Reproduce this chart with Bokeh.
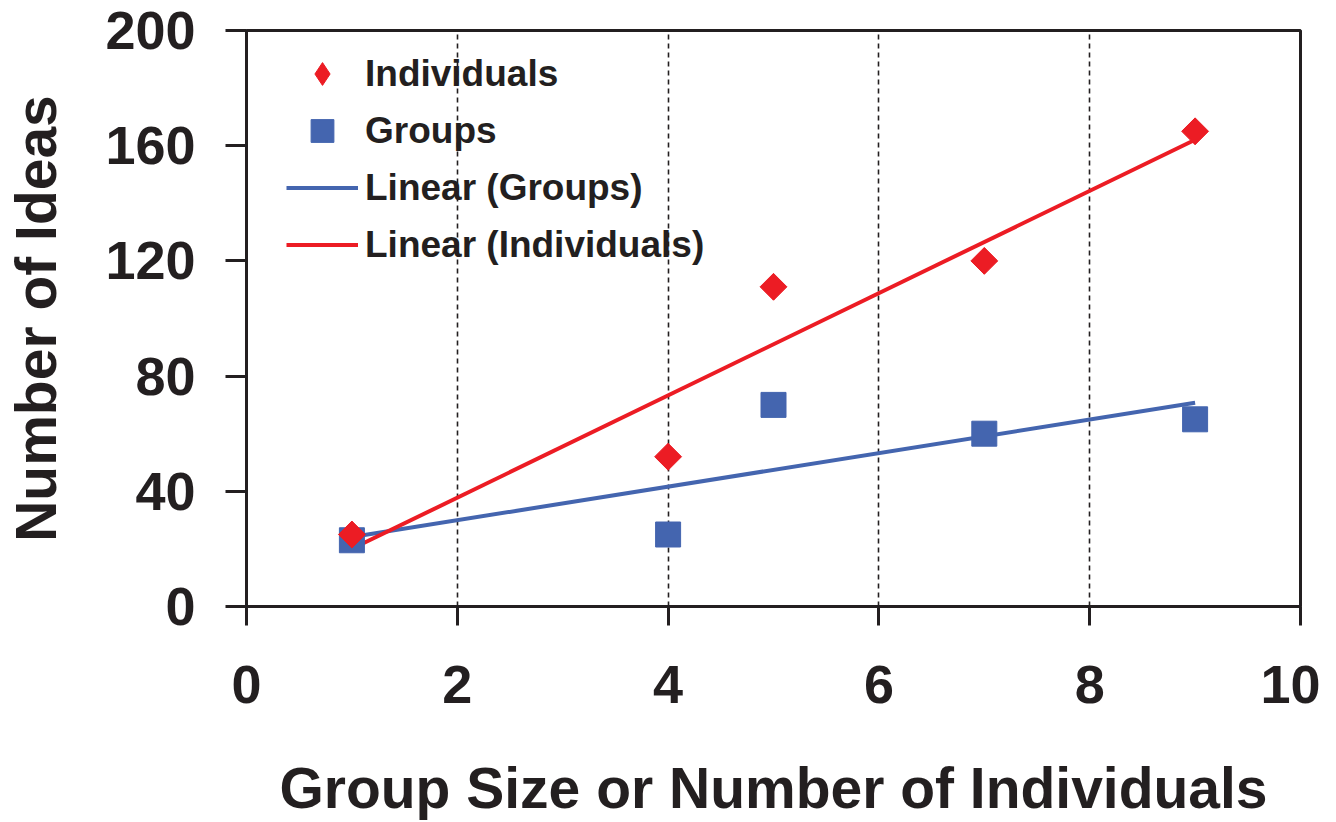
import numpy as np
from bokeh.plotting import figure
from bokeh.models import Range1d, FixedTicker, Legend, LegendItem
from bokeh.embed import file_html
from bokeh.resources import INLINE

# ---- data ----
x_vals = [1, 4, 5, 7, 9]
individuals = [25, 52, 111, 120, 165]
groups = [23, 25, 70, 60, 65]
x_ticks = [0, 2, 4, 6, 8, 10]
y_ticks = [0, 40, 80, 120, 160, 200]
grid_x = [2, 4, 6, 8]

RED = "#EC1C24"
BLUE = "#4465AF"
INK = "#231F20"
FONT = "Liberation Sans"

p = figure(width=1320, height=822, output_backend="svg", toolbar_location=None,
           x_range=Range1d(0, 10), y_range=Range1d(0, 200),
           min_border_left=246, min_border_right=20, min_border_top=30, min_border_bottom=216)
p.background_fill_color = "white"
p.border_fill_color = "white"
p.outline_line_color = INK
p.outline_line_width = 3

# axes
for ax in (p.xaxis[0], p.yaxis[0]):
    ax.axis_line_color = INK
    ax.axis_line_width = 3
    ax.major_tick_line_color = INK
    ax.major_tick_line_width = 3
    ax.major_tick_in = 0
    ax.minor_tick_line_color = None
    ax.major_label_text_font = FONT
    ax.major_label_text_font_style = "bold"
    ax.major_label_text_font_size = "54px"
    ax.major_label_text_color = INK
    ax.axis_label_text_font = FONT
    ax.axis_label_text_font_style = "bold"
    ax.axis_label_text_font_size = "57px"
    ax.axis_label_text_color = INK

p.xaxis.ticker = FixedTicker(ticks=x_ticks)
p.yaxis.ticker = FixedTicker(ticks=y_ticks)
p.xaxis.major_tick_out = 19
p.yaxis.major_tick_out = 21
p.xaxis.major_label_standoff = 40
p.yaxis.major_label_standoff = 30
p.xaxis.axis_label = "Group Size or Number of Individuals"
p.yaxis.axis_label = "Number of Ideas"
p.xaxis.axis_label_standoff = 50
p.yaxis.axis_label_standoff = 34

p.ygrid.grid_line_color = None
p.xgrid.ticker = FixedTicker(ticks=grid_x)
p.xgrid.grid_line_color = INK
p.xgrid.grid_line_width = 1.6
p.xgrid.grid_line_dash = "5 4"

# trend lines (least squares fit of the data)
xa = np.array(x_vals, dtype=float)
ci = np.polyfit(xa, np.array(individuals, dtype=float), 1)
cg = np.polyfit(xa, np.array(groups, dtype=float), 1)
x_line = [min(x_vals), max(x_vals)]
r_lg = p.line(x_line, list(np.polyval(cg, x_line)), line_color=BLUE, line_width=4)
r_li = p.line(x_line, list(np.polyval(ci, x_line)), line_color=RED, line_width=4)

r_g = p.scatter(x_vals, groups, marker="square", size=25, fill_color=BLUE, line_color=BLUE)
# diamond marker (used for the legend entry; legend glyphs are never rotated)
r_i_leg = p.scatter(x_vals, individuals, marker="diamond", size=26,
                    fill_color=RED, line_color=RED)
r_i = p.scatter(x_vals, individuals, marker="square", size=19, angle=np.pi / 4,
                fill_color=RED, line_color=RED)

legend = Legend(items=[
    LegendItem(label="Individuals", renderers=[r_i_leg]),
    LegendItem(label="Groups", renderers=[r_g]),
    LegendItem(label="Linear (Groups)", renderers=[r_lg]),
    LegendItem(label="Linear (Individuals)", renderers=[r_li]),
], location=(40, 333))
legend.border_line_color = None
legend.background_fill_alpha = 0
legend.margin = 0
legend.padding = 0
legend.glyph_width = 72
legend.glyph_height = 57
legend.spacing = 0
legend.label_standoff = 7
legend.label_text_font = FONT
legend.label_text_font_style = "bold"
legend.label_text_font_size = "37px"
legend.label_text_color = INK
p.add_layout(legend, "center")

open("out.html", "w").write(file_html(p, INLINE))
